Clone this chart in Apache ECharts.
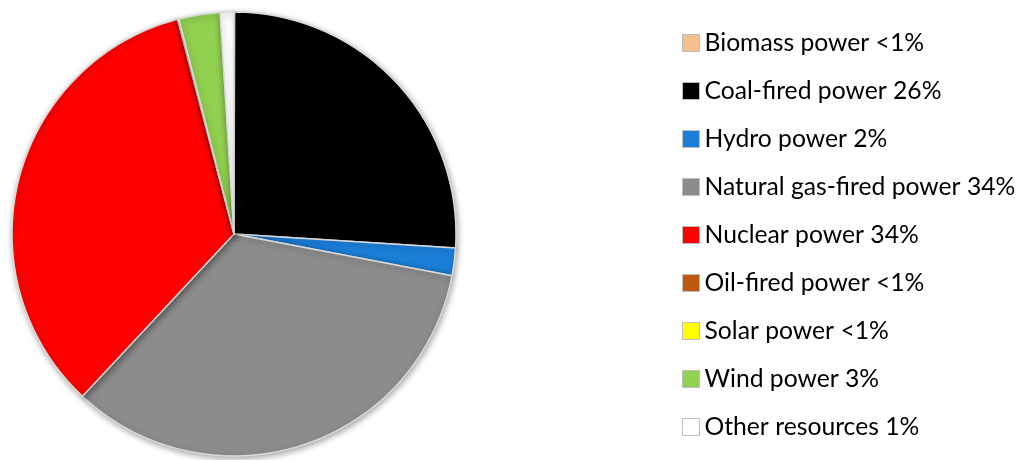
<!DOCTYPE html>
<html>
<head>
<meta charset="utf-8">
<script src="https://cdn.jsdelivr.net/npm/echarts@6/dist/echarts.min.js"></script>
<style>
  html, body { margin: 0; padding: 0; background: #fff; }
  #pieChart { width: 1021px; height: 460px; }
</style>
</head>
<body>
<div id="pieChart"></div>
<script>
// sources, in the order they go round the pie (clockwise from 12 o'clock)
const sources = ['Biomass power', 'Coal-fired power', 'Hydro power', 'Natural gas-fired power',
  'Nuclear power', 'Oil-fired power', 'Solar power', 'Wind power', 'Other resources']
const shares = [0.05, 26, 2, 34, 34, 0.05, 0.05, 3, 1]
const shareLabels = ['<1%', '26%', '2%', '34%', '34%', '<1%', '<1%', '3%', '1%']
const colors = ['#f5c08e', '#000000', '#1b7fd8', '#8c8c8c', '#ff0000', '#c0590f', '#ffff00', '#92d050', '#ffffff']

const chart = echarts.init(document.getElementById('pieChart'), null, { renderer: 'canvas' })

const labelOf = {}
sources.forEach((s, i) => { labelOf[s] = s + ' ' + shareLabels[i] })

chart.setOption({
  animation: false,
  legend: {
    orient: 'vertical',
    left: 677,
    top: 24,
    itemWidth: 17,
    itemHeight: 17,
    itemGap: 20,
    icon: 'rect',
    data: sources,
    formatter: name => labelOf[name],
    textStyle: {
      fontFamily: 'Lato',
      fontSize: 24.7,
      lineHeight: 28,
      color: '#000'
    },
    itemStyle: {
      borderColor: '#bdbdbd',
      borderWidth: 1
    }
  },
  series: [
    {
      type: 'pie',
      center: [234, 234],
      radius: [0, 222],
      startAngle: 90,
      clockwise: true,
      label: { show: false },
      labelLine: { show: false },
      emphasis: { disabled: true },
      itemStyle: {
        borderColor: '#d9d9d9',
        borderWidth: 1.5,
        shadowBlur: 6,
        shadowColor: 'rgba(0,0,0,0.35)',
        shadowOffsetX: 1,
        shadowOffsetY: 2
      },
      data: sources.map((s, i) => ({
        name: s,
        value: shares[i],
        itemStyle: { color: colors[i] }
      }))
    }
  ]
})
</script>
</body>
</html>
